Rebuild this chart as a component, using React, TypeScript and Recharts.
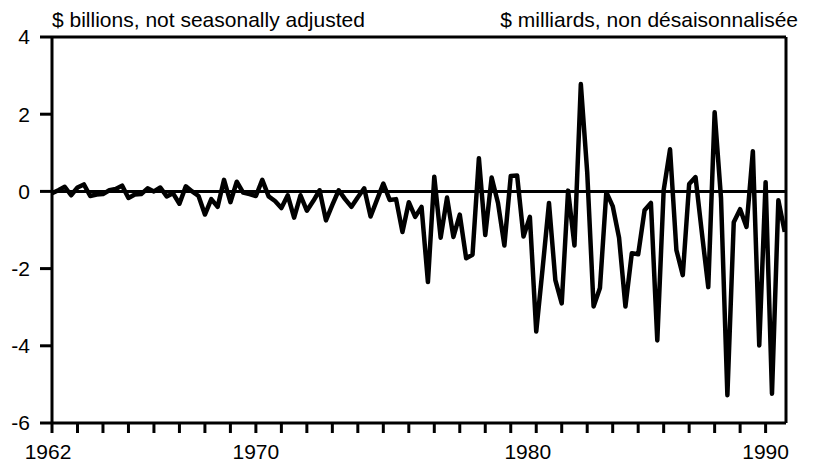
import React from "react";
import { LineChart, Line, XAxis, YAxis, ReferenceLine } from "recharts";

// quarterly values, 1962Q1 .. 1990Q4, $ billions
const values = [
  -0.05, 0.03, 0.12, -0.1, 0.1, 0.18, -0.12, -0.08,
  -0.07, 0.03, 0.06, 0.15, -0.17, -0.08, -0.07, 0.08,
  0.0, 0.1, -0.13, -0.05, -0.32, 0.13, 0.0, -0.12,
  -0.6, -0.2, -0.4, 0.3, -0.28, 0.25, -0.03, -0.07,
  -0.12, 0.3, -0.13, -0.25, -0.43, -0.1, -0.68, -0.1,
  -0.5, -0.25, 0.03, -0.75, -0.35, 0.03, -0.2, -0.4,
  -0.15, 0.08, -0.65, -0.22, 0.2, -0.22, -0.2, -1.05,
  -0.28, -0.66, -0.4, -2.35, 0.38, -1.2, -0.16, -1.18,
  -0.6, -1.73, -1.64, 0.86, -1.13, 0.36, -0.3, -1.4,
  0.4, 0.41, -1.17, -0.66, -3.63, -2.0, -0.3, -2.3,
  -2.9, 0.02, -1.4, 2.78, 0.5, -2.98, -2.5, -0.02,
  -0.38, -1.2, -2.98, -1.6, -1.63, -0.49, -0.3, -3.86,
  0.03, 1.09, -1.52, -2.17, 0.19, 0.37, -1.08, -2.48,
  2.05, -0.17, -5.28, -0.8, -0.46, -0.92, 1.04, -3.99,
  0.24, -5.24, -0.23, -1.05,
];

const firstYear = 1962;
const yearTicks = Array.from({ length: 29 }, (_, i) => firstYear + i);
const labelYears = [1962, 1970, 1980, 1990];
const yTicks = [-6, -4, -2, 0, 2, 4];

const titleLeft = "$ billions, not seasonally adjusted";
const titleRight = "$ milliards, non désaisonnalisée";

const data = values.map((v, i) => ({ t: firstYear + i / 4, v }));

const FONT = "'Liberation Sans', Arial, sans-serif";
const axisStyle = { stroke: "#000", strokeWidth: 3 };

function YearTick(props: any) {
  const { x, y, payload } = props;
  if (!labelYears.includes(payload.value)) return null;
  // the 1980 label sits a little right of its tick in the original
  const shift = payload.value === 1980 ? 17 : payload.value === 1962 ? -4 : 0;
  return (
    <text
      x={x + shift}
      y={y}
      dy="0.71em"
      textAnchor="middle"
      fontSize={21}
      fontFamily={FONT}
      fill="#000"
    >
      {payload.value}
    </text>
  );
}

export default function App() {
  return (
    <div style={{ position: "relative", width: 826, height: 467, fontFamily: FONT }}>
      <style>{"body{margin:0}"}</style>
      <div
        style={{
          position: "absolute",
          left: 52,
          top: 9,
          fontSize: 21,
          lineHeight: "21px",
          color: "#000",
          whiteSpace: "nowrap",
        }}
      >
        {titleLeft}
      </div>
      <div
        style={{
          position: "absolute",
          right: 28,
          top: 9,
          fontSize: 21,
          lineHeight: "21px",
          color: "#000",
          whiteSpace: "nowrap",
        }}
      >
        {titleRight}
      </div>
      <LineChart
        width={826}
        height={467}
        data={data}
        margin={{ top: 37, right: 0, bottom: 0, left: 0 }}
      >
        <XAxis
          dataKey="t"
          type="number"
          domain={[1962, 1990.8]}
          ticks={yearTicks}
          interval={0}
          allowDataOverflow
          height={44}
          tickSize={10}
          tickMargin={11}
          axisLine={axisStyle}
          tickLine={axisStyle}
          tick={<YearTick />}
        />
        <YAxis
          yAxisId="left"
          domain={[-6, 4]}
          ticks={yTicks}
          width={52}
          tickSize={12}
          tickMargin={10}
          axisLine={axisStyle}
          tickLine={axisStyle}
          tick={{ fill: "#000", fontSize: 21, fontFamily: FONT }}
        />
        <YAxis
          yAxisId="right"
          orientation="right"
          domain={[-6, 4]}
          ticks={yTicks}
          width={40}
          tickSize={12}
          tickMargin={10}
          axisLine={axisStyle}
          tickLine={axisStyle}
          tick={{ fill: "#000", fontSize: 21, fontFamily: FONT }}
        />
        <ReferenceLine yAxisId="left" y={4} stroke="#000" strokeWidth={3} />
        <ReferenceLine yAxisId="left" y={0} stroke="#000" strokeWidth={3} />
        <Line
          yAxisId="left"
          type="linear"
          dataKey="v"
          stroke="#000"
          strokeWidth={4.5}
          strokeLinejoin="round"
          dot={false}
          activeDot={false}
          isAnimationActive={false}
        />
      </LineChart>
    </div>
  );
}
